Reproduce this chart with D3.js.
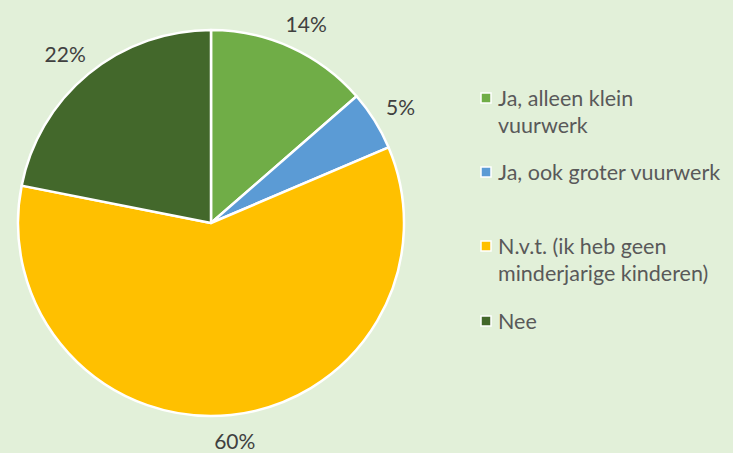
<!DOCTYPE html>
<html>
<head>
<meta charset="utf-8">
<script src="https://cdn.jsdelivr.net/npm/d3@7"></script>
<style>
  body { margin: 0; background: #e2f0d9; }
  svg { display: block; }
</style>
</head>
<body>
<svg width="733" height="453"></svg>
<script>
const categories = ["Ja, alleen klein vuurwerk", "Ja, ook groter vuurwerk", "N.v.t. (ik heb geen minderjarige kinderen)", "Nee"];
const legendLines = [["Ja, alleen klein", "vuurwerk"], ["Ja, ook groter vuurwerk"], ["N.v.t. (ik heb geen", "minderjarige kinderen)"], ["Nee"]];
const values = [13.6, 5.0, 59.5, 21.9];
const percentLabels = ["14%", "5%", "60%", "22%"];
const colors = ["#70ad47", "#5b9bd5", "#ffc000", "#43682b"];

const svg = d3.select("svg");
const width = +svg.attr("width");
const height = +svg.attr("height");
const cx = 211, cy = 223, radius = 193;
const font = "Lato, 'Open Sans', sans-serif";

svg.append("rect").attr("width", width).attr("height", height).attr("fill", "#e2f0d9");

const data = categories.map((c, i) => ({ name: c, value: values[i], label: percentLabels[i], color: colors[i], lines: legendLines[i] }));
const pie = d3.pie().value(d => d.value).sort(null);
const arcs = pie(data);
const arc = d3.arc().innerRadius(0).outerRadius(radius);

const pieGroup = svg.append("g").attr("transform", "translate(" + cx + "," + cy + ")");
pieGroup.selectAll("path").data(arcs).enter().append("path")
  .attr("d", arc)
  .attr("fill", d => d.data.color)
  .attr("stroke", "#ffffff")
  .attr("stroke-width", 2.5)
  .attr("stroke-linejoin", "round");

// outside-end labels: box pushed just outside the rim along the mid angle
const labelGap = 16;
const labelH = 20;
pieGroup.selectAll("text.pct").data(arcs).enter().append("text")
  .attr("class", "pct")
  .attr("font-family", font)
  .attr("font-size", 21)
  .attr("fill", "#404040")
  .attr("text-anchor", "middle")
  .attr("dominant-baseline", "central")
  .text(d => d.data.label)
  .each(function(d) {
    const a = (d.startAngle + d.endAngle) / 2;
    const w = this.getComputedTextLength();
    const r = radius + labelGap;
    const x = r * Math.sin(a) + (w / 2) * Math.sin(a);
    const y = -r * Math.cos(a) - (labelH / 2) * Math.cos(a);
    d3.select(this).attr("x", x).attr("y", y);
  });

// legend
const legendX = 481;
const rowTops = [98, 172, 246, 321];
const lineH = 27;
const legend = svg.append("g");
data.forEach((d, i) => {
  const g = legend.append("g").attr("transform", "translate(" + legendX + "," + rowTops[i] + ")");
  g.append("rect").attr("x", 0).attr("y", -5).attr("width", 10).attr("height", 10)
    .attr("fill", d.color).attr("stroke", "#ffffff").attr("stroke-width", 1.5);
  g.selectAll("text").data(d.lines).enter().append("text")
    .attr("x", 17)
    .attr("y", (t, j) => j * lineH)
    .attr("dominant-baseline", "central")
    .attr("font-family", font)
    .attr("font-size", 21.5)
    .attr("fill", "#595959")
    .text(t => t);
});
</script>
</body>
</html>
